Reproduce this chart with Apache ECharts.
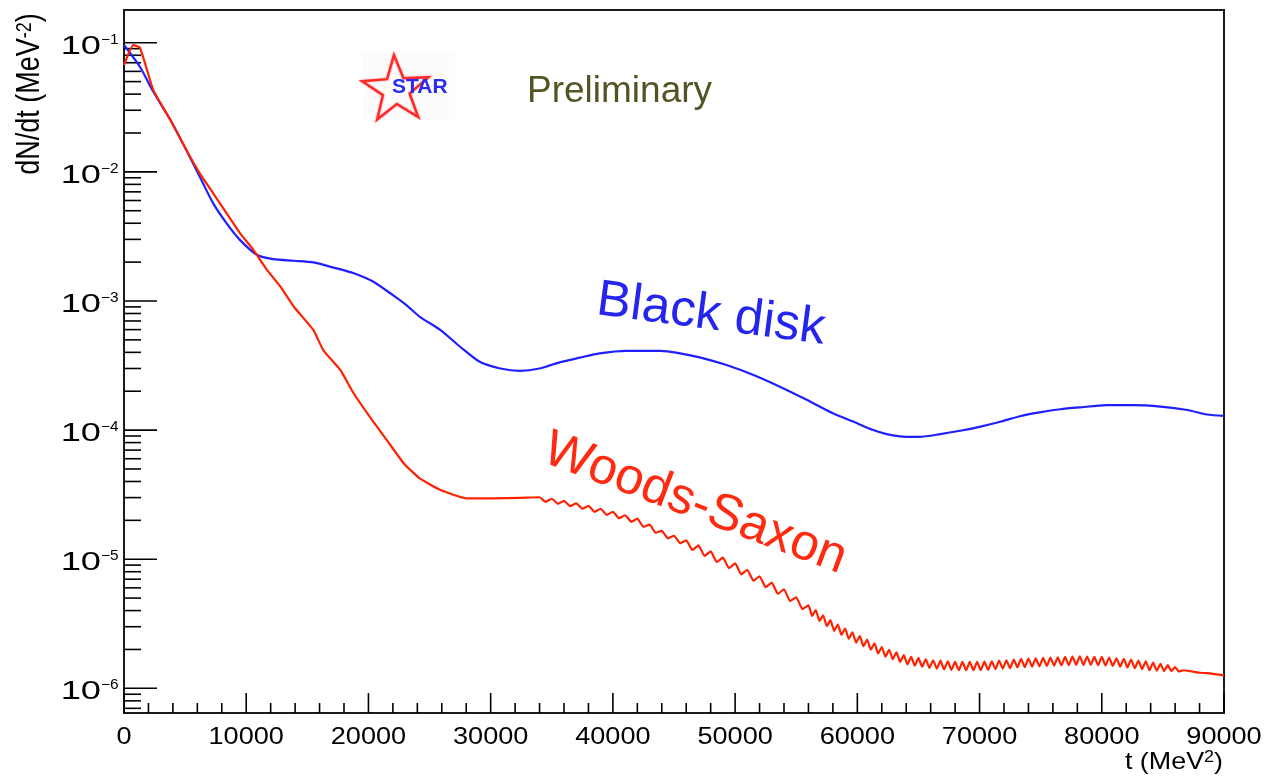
<!DOCTYPE html>
<html>
<head>
<meta charset="utf-8">
<script src="https://cdn.jsdelivr.net/npm/echarts@6/dist/echarts.min.js"></script>
<style>
  html, body { margin: 0; padding: 0; background: #ffffff; }
  #chart { width: 1264px; height: 778px; }
</style>
</head>
<body>
<div id="chart"></div>
<script>
// Black disk model: t (MeV^2) and dN/dt (MeV^-2)
const blackDiskT = [0, 1300, 2400, 3800, 5100, 6200, 7300, 8400, 9500, 10900, 12200, 13900, 15500, 17100, 18800,
  20400, 22000, 23100, 24200, 25900, 27500, 29100, 30800, 32400, 34000, 35700, 37300, 38900, 41100, 43900, 45500,
  47100, 49300, 51500, 53700, 55900, 58000, 59700, 61300, 62400, 64000, 65100, 66800, 68400, 70000, 71700, 73300,
  74900, 76600, 78200, 80400, 82600, 84800, 87000, 88600, 90000];
const blackDiskY = [0.0960, 0.0652, 0.0417, 0.0252, 0.01475, 0.00916, 0.00570, 0.00399, 0.00296, 0.00227, 0.00211,
  0.00205, 0.00199, 0.00182, 0.00164, 0.00141, 0.00111, 0.00093, 0.000754, 0.000595, 0.000442, 0.000338, 0.000300,
  0.000288, 0.000300, 0.000336, 0.000364, 0.000393, 0.000411, 0.000411, 0.000393, 0.000366, 0.000319, 0.000267,
  0.000216, 0.000171, 0.000135, 0.000116, 0.000100, 0.0000931, 0.0000887, 0.0000887, 0.0000931, 0.0000988, 0.000106,
  0.000116, 0.000128, 0.000137, 0.000145, 0.000150, 0.000156, 0.000156, 0.000152, 0.000143, 0.000132, 0.000129];

// Woods-Saxon model: t (MeV^2) and dN/dt (MeV^-2); the tail carries the bin-to-bin ripple
const woodsSaxonT = [0, 760, 1300, 2400, 3800, 5100, 6200, 7300, 8400, 9500, 10600, 11700, 12800, 13900, 15500,
  16300, 17700, 18800, 20100, 21500, 22900, 24200, 25900, 28000, 30200, 32400,
  34000, 34500, 35000, 35500, 36000, 36500, 37000, 37500, 38000, 38500, 39000, 39500, 40000, 40500, 41000, 41500,
  42000, 42500, 43000, 43500, 44000, 44500, 45000, 45500, 46000, 46500, 47000, 47500, 48000, 48500, 49000, 49500,
  50000, 50500, 51000, 51500, 52000, 52500, 53000, 53500, 54000, 54500, 55000, 55500, 56000,
  56300, 56600, 56900, 57200, 57500, 57800, 58100, 58400, 58700, 59000, 59300, 59600, 59900, 60200, 60500, 60800,
  61100, 61400, 61700, 62000, 62300, 62600, 62900, 63200, 63500, 63800, 64100, 64400, 64700, 65000, 65300, 65600,
  65900, 66200, 66500, 66800, 67100, 67400, 67700, 68000, 68300, 68600, 68900, 69200, 69500, 69800, 70100, 70400,
  70700, 71000, 71300, 71600, 71900, 72200, 72500, 72800, 73100, 73400, 73700, 74000, 74300, 74600, 74900, 75200,
  75500, 75800, 76100, 76400, 76700, 77000, 77300, 77600, 77900, 78200, 78500, 78800, 79100, 79400, 79700, 80000,
  80300, 80600, 80900, 81200, 81500, 81800, 82100, 82400, 82700, 83000, 83300, 83600, 83900, 84200, 84500, 84800,
  85100, 85400, 85700, 86000, 86300, 86700, 87200, 87600, 88000, 88600, 89200, 90000];
const woodsSaxonY = [0.0672, 0.0960, 0.0918, 0.0430, 0.0252, 0.01475, 0.00974, 0.00682, 0.00477, 0.00334, 0.00248,
  0.00174, 0.00129, 0.000902, 0.000595, 0.000417, 0.000292, 0.000192, 0.000127, 0.0000837, 0.0000552, 0.0000422,
  0.0000343, 0.0000296, 0.0000296, 0.0000299,
  3.02e-5, 2.78e-5, 2.94e-5, 2.69e-5, 2.83e-5, 2.58e-5, 2.71e-5, 2.46e-5, 2.59e-5, 2.33e-5, 2.46e-5, 2.20e-5,
  2.33e-5, 2.08e-5, 2.19e-5, 1.95e-5, 2.06e-5, 1.78e-5, 1.85e-5, 1.60e-5, 1.66e-5, 1.45e-5, 1.52e-5, 1.33e-5,
  1.40e-5, 1.18e-5, 1.28e-5, 1.06e-5, 1.15e-5, 9.51e-6, 1.03e-5, 8.53e-6, 9.29e-6, 7.64e-6, 8.28e-6, 6.81e-6,
  7.38e-6, 6.07e-6, 6.58e-6, 5.40e-6, 5.85e-6, 4.74e-6, 5.07e-6, 4.11e-6, 4.40e-6,
  3.64e-6, 4.04e-6, 3.33e-6, 3.68e-6, 3.04e-6, 3.37e-6, 2.79e-6, 3.12e-6, 2.60e-6, 2.90e-6, 2.42e-6, 2.71e-6,
  2.26e-6, 2.54e-6, 2.12e-6, 2.38e-6, 1.99e-6, 2.23e-6, 1.86e-6, 2.09e-6, 1.76e-6, 1.99e-6, 1.68e-6, 1.90e-6,
  1.60e-6, 1.81e-6, 1.53e-6, 1.75e-6, 1.50e-6, 1.72e-6, 1.47e-6, 1.68e-6, 1.44e-6, 1.65e-6, 1.42e-6, 1.64e-6,
  1.40e-6, 1.62e-6, 1.39e-6, 1.60e-6, 1.38e-6, 1.60e-6, 1.38e-6, 1.60e-6, 1.38e-6, 1.60e-6, 1.38e-6, 1.61e-6,
  1.39e-6, 1.62e-6, 1.41e-6, 1.64e-6, 1.42e-6, 1.65e-6, 1.43e-6, 1.67e-6, 1.45e-6, 1.69e-6, 1.46e-6, 1.70e-6,
  1.47e-6, 1.71e-6, 1.48e-6, 1.72e-6, 1.49e-6, 1.73e-6, 1.50e-6, 1.74e-6, 1.51e-6, 1.75e-6, 1.51e-6, 1.76e-6,
  1.52e-6, 1.77e-6, 1.52e-6, 1.76e-6, 1.52e-6, 1.75e-6, 1.51e-6, 1.75e-6, 1.50e-6, 1.73e-6, 1.49e-6, 1.71e-6,
  1.47e-6, 1.69e-6, 1.45e-6, 1.67e-6, 1.43e-6, 1.64e-6, 1.41e-6, 1.62e-6, 1.38e-6, 1.58e-6, 1.37e-6, 1.55e-6,
  1.36e-6, 1.51e-6, 1.36e-6, 1.46e-6, 1.35e-6, 1.38e-6, 1.36e-6, 1.34e-6, 1.32e-6, 1.31e-6, 1.29e-6, 1.26e-6];

// axis ranges and tick labels
const xRange = [0, 90000];
const yRange = [6.44e-7, 0.1793];
const xTickValues = [0, 10000, 20000, 30000, 40000, 50000, 60000, 70000, 80000, 90000];
const xTickLabels = ['0', '10000', '20000', '30000', '40000', '50000', '60000', '70000', '80000', '90000'];
const xMinorStep = 2000;
const yDecades = [-6, -5, -4, -3, -2, -1];
const yTickBase = '10';
const yTickExponents = ['\u22126', '\u22125', '\u22124', '\u22123', '\u22122', '\u22121'];

const FONT = '"Liberation Sans", Arial, Helvetica, sans-serif';

function pairs(xs, ys) { return xs.map((x, i) => [x, ys[i]]); }

// ROOT-style frame ticks (pointing inward) and tick labels
function renderFrame(params, api) {
  if (params.dataIndex !== 0) return;
  const children = [];
  const bottom = api.coord([xRange[0], yRange[0]])[1];
  const left = api.coord([xRange[0], yRange[0]])[0];
  const stroke = { stroke: '#000', lineWidth: 1.6 };

  // x minor + major ticks
  for (let v = xRange[0]; v <= xRange[1] + 1; v += xMinorStep) {
    const px = api.coord([v, yRange[0]])[0];
    const major = v % 10000 === 0;
    children.push({ type: 'line', shape: { x1: px, y1: bottom, x2: px, y2: bottom - (major ? 20 : 10) }, style: stroke });
  }
  xTickValues.forEach((v, i) => {
    const px = api.coord([v, yRange[0]])[0];
    children.push({ type: 'text', x: px, y: bottom + 12, scaleX: 1.13,
      style: { text: xTickLabels[i], fill: '#000', font: '24px ' + FONT, align: 'center', verticalAlign: 'top' } });
  });

  // y ticks: decades are long, 2..9 are short
  for (let d = -7; d <= 0; d++) {
    for (let m = 1; m <= 9; m++) {
      const v = m * Math.pow(10, d);
      if (v < yRange[0] || v > yRange[1]) continue;
      const py = api.coord([xRange[0], v])[1];
      children.push({ type: 'line', shape: { x1: left, y1: py, x2: left + (m === 1 ? 33 : 17), y2: py }, style: stroke });
    }
  }
  yDecades.forEach((d, i) => {
    const py = api.coord([xRange[0], Math.pow(10, d)])[1];
    children.push({ type: 'text', x: left - 23, y: py + 4, scaleX: 1.45,
      style: { text: yTickBase, fill: '#000', font: '25px ' + FONT, align: 'right', verticalAlign: 'middle' } });
    children.push({ type: 'text', x: left - 23, y: py - 3, scaleX: 1.1,
      style: { text: yTickExponents[i], fill: '#000', font: '14px ' + FONT, align: 'left', verticalAlign: 'middle' } });
  });
  return { type: 'group', children };
}

// STAR logo: five-pointed star outline with lettering
function starPoints(cx, cy, R, r, rot) {
  const pts = [];
  for (let k = 0; k < 10; k++) {
    const a = rot - Math.PI / 2 + k * Math.PI / 5;
    const rr = k % 2 === 0 ? R : r;
    pts.push([cx + rr * Math.cos(a), cy + rr * Math.sin(a)]);
  }
  return pts;
}

const chart = echarts.init(document.getElementById('chart'), null, { renderer: 'canvas' });
chart.setOption({
  backgroundColor: '#ffffff',
  animation: false,
  grid: { left: 124, right: 40, top: 10, bottom: 65, show: true, borderColor: '#1a1a1a', borderWidth: 2, backgroundColor: 'transparent' },
  xAxis: {
    type: 'value', min: xRange[0], max: xRange[1], interval: 10000,
    axisLine: { show: false }, axisTick: { show: false }, axisLabel: { show: false }, splitLine: { show: false }
  },
  yAxis: {
    type: 'log', logBase: 10, min: yRange[0], max: yRange[1],
    axisLine: { show: false }, axisTick: { show: false }, axisLabel: { show: false }, splitLine: { show: false }
  },
  series: [
    {
      type: 'custom', name: 'frame', renderItem: renderFrame, data: [[0, 1e-3]], clip: false, silent: true, z: 1
    },
    {
      type: 'line', name: 'Black disk', data: pairs(blackDiskT, blackDiskY), showSymbol: false, smooth: 0.25,
      lineStyle: { color: '#1f1fff', width: 2.2 }, z: 3
    },
    {
      type: 'line', name: 'Woods-Saxon', data: pairs(woodsSaxonT, woodsSaxonY), showSymbol: false, smooth: 0.15,
      lineStyle: { color: '#ff2200', width: 2.2 }, z: 4
    }
  ],
  graphic: [
    // axis titles
    { type: 'text', x: 30, y: 94, rotation: Math.PI / 2, scaleY: 1.2,
      style: { text: '{b|dN/dt (MeV}{s|-2}{b|)}', align: 'center', verticalAlign: 'middle',
        rich: { b: { font: '27px ' + FONT, fill: '#000' }, s: { font: '18px ' + FONT, fill: '#000', verticalAlign: 'top' } } } },
    { type: 'text', x: 1223, y: 762, scaleX: 1.12,
      style: { text: '{b|t (MeV}{s|2}{b|)}', align: 'right', verticalAlign: 'middle',
        rich: { b: { font: '24px ' + FONT, fill: '#000' }, s: { font: '16px ' + FONT, fill: '#000', verticalAlign: 'top' } } } },
    // STAR logo
    { type: 'rect', shape: { x: 362, y: 52, width: 93, height: 68 }, style: { fill: '#fcfcfd' }, z: 5 },
    { type: 'polygon', shape: { points: starPoints(396, 90, 35, 14, -0.06) },
      style: { fill: 'none', stroke: '#ff2a2a', lineWidth: 2.5, shadowBlur: 2, shadowColor: 'rgba(255,80,80,0.6)' }, z: 6 },
    { type: 'text', x: 392, y: 87, z: 7,
      style: { text: 'STAR', font: 'bold 21px ' + FONT, fill: '#2a2af0', align: 'left', verticalAlign: 'middle' } },
    // annotations
    { type: 'text', x: 527, y: 92, style: { text: 'Preliminary', font: '37px ' + FONT, fill: '#535424', align: 'left', verticalAlign: 'middle' } },
    { type: 'text', x: 711, y: 315, rotation: -0.13,
      style: { text: 'Black disk', font: '51px ' + FONT, fill: '#2525ee', align: 'center', verticalAlign: 'middle' } },
    { type: 'text', x: 695, y: 504, rotation: -0.36,
      style: { text: 'Woods-Saxon', font: '51px ' + FONT, fill: '#ff2a10', align: 'center', verticalAlign: 'middle' } }
  ]
});
</script>
</body>
</html>
